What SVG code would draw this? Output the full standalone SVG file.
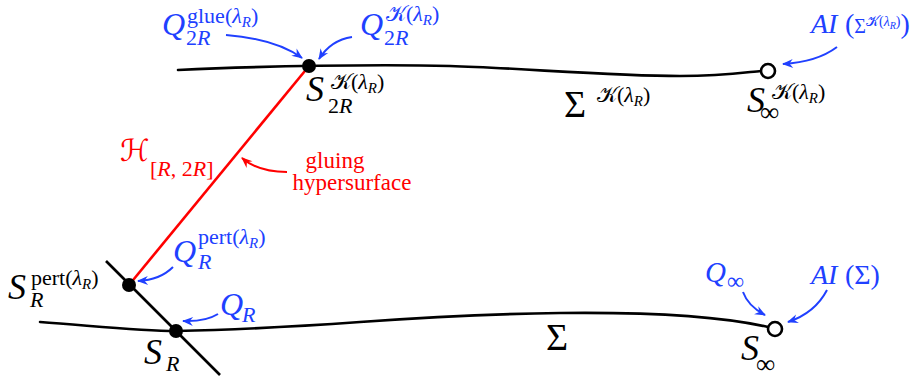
<svg xmlns="http://www.w3.org/2000/svg" width="921" height="379" viewBox="0 0 921 379">
<style>
text{font-family:"Liberation Serif","DejaVu Serif",serif;}
.i{font-style:italic;}
.cal{font-family:"DejaVu Serif","DejaVu Sans","Noto Sans",serif;font-style:normal;}
.b{fill:#2040ff;}
.k{fill:#000;}
.rd{fill:#ff0000;}
.big{font-size:32px;}
.bs{font-size:36px;}
.sm{font-size:22px;}
.xs{font-size:15px;}
.inf{font-size:27px;}
.curve{fill:none;stroke:#000;stroke-width:2.6;stroke-linecap:round;}
.arr{fill:none;stroke:#2040ff;stroke-width:2;marker-end:url(#ab);}
.arrr{fill:none;stroke:#ff0000;stroke-width:2;marker-end:url(#ar);}
.dot{fill:#000;}
.open{fill:#fff;stroke:#000;stroke-width:2.6;}
</style>
<defs>
<marker id="ab" viewBox="-11 -6 12 12" refX="0" refY="0" markerWidth="12" markerHeight="12" orient="auto" markerUnits="userSpaceOnUse"><path d="M1,0 L-10,-4.5 L-6.5,0 L-10,4.5 z" fill="#2040ff"/></marker>
<marker id="ar" viewBox="-11 -6 12 12" refX="0" refY="0" markerWidth="12" markerHeight="12" orient="auto" markerUnits="userSpaceOnUse"><path d="M1,0 L-10,-4.5 L-6.5,0 L-10,4.5 z" fill="#ff0000"/></marker>
</defs>

<g id="surfaces">
<path id="sigmaK" class="curve" d="M178,70 C260,66 380,64 450,66 C520,68 610,76 680,76 C725,76 748,72 761,71"/>
<path id="sigma" class="curve" d="M40,322 C95,326 140,331 176,331 C230,330 290,327 360,322 C430,317 480,314 560,313 C650,312 720,316 768,327"/>
<line id="slice" x1="106" y1="261" x2="220" y2="375" stroke="#000" stroke-width="2.6"/>
<line id="gluing-surface" x1="129" y1="285" x2="309" y2="66" stroke="#ff0000" stroke-width="2.6"/>
</g>

<g id="connectors">
<path class="arr" d="M226,35 Q276,39 302,58"/>
<path class="arr" d="M352,37 Q331,40 319,59"/>
<path class="arr" d="M837,47 Q817,62 783,64"/>
<path class="arrr" d="M287,172 Q258,172 242,158"/>
<path class="arr" d="M173,267 Q160,280 138,281"/>
<path class="arr" d="M218,314 Q205,322 183,321"/>
<path class="arr" d="M743,292 Q748,306 765,315"/>
<path class="arr" d="M827,290 Q815,313 788,322"/>
</g>

<g id="node-S2R">
<circle class="dot" cx="309" cy="66" r="7"/>
<text class="k"><tspan class="i bs" x="306" y="101">S</tspan><tspan class="cal sm" x="331" y="89">𝒦</tspan><tspan class="sm" y="89">(</tspan><tspan class="i sm" y="89">λ</tspan><tspan class="i xs" y="93">R</tspan><tspan class="sm" y="89">)</tspan><tspan class="sm" x="328" y="113">2</tspan><tspan class="i sm" y="113">R</tspan></text>
</g>

<g id="node-Qglue">
<text class="b"><tspan class="i big" x="162" y="35">Q</tspan><tspan class="sm" x="187" y="23">glue(</tspan><tspan class="i sm" y="23">λ</tspan><tspan class="i xs" y="27">R</tspan><tspan class="sm" y="23">)</tspan><tspan class="sm" x="186" y="45">2</tspan><tspan class="i sm" y="45">R</tspan></text>
</g>

<g id="node-QK">
<text class="b"><tspan class="i big" x="360" y="35">Q</tspan><tspan class="cal sm" x="386" y="21">𝒦</tspan><tspan class="sm" y="21">(</tspan><tspan class="i sm" y="21">λ</tspan><tspan class="i xs" y="25">R</tspan><tspan class="sm" y="21">)</tspan><tspan class="sm" x="384" y="45">2</tspan><tspan class="i sm" y="45">R</tspan></text>
</g>

<g id="node-SigmaK">
<text class="k"><tspan font-size="38" x="564" y="117">Σ</tspan><tspan class="cal sm" x="597" y="102">𝒦</tspan><tspan class="sm" y="102">(</tspan><tspan class="i sm" y="102">λ</tspan><tspan class="i xs" y="106">R</tspan><tspan class="sm" y="102">)</tspan></text>
</g>

<g id="node-SinfK">
<circle class="open" cx="768" cy="71" r="7"/>
<text class="k"><tspan class="i bs" x="747" y="112">S</tspan><tspan class="cal sm" x="772" y="99">𝒦</tspan><tspan class="sm" y="99">(</tspan><tspan class="i sm" y="99">λ</tspan><tspan class="i xs" y="103">R</tspan><tspan class="sm" y="99">)</tspan><tspan class="inf" x="760" y="121">∞</tspan></text>
</g>

<g id="node-AIK">
<text class="b"><tspan class="i" font-size="28" x="811" y="33">AI</tspan><tspan font-size="28" x="845" y="33">(</tspan><tspan font-size="20" y="33">Σ</tspan><tspan class="cal" font-size="14" y="26">𝒦</tspan><tspan font-size="14" y="26">(</tspan><tspan class="i" font-size="14" y="26">λ</tspan><tspan class="i" font-size="10" y="29">R</tspan><tspan font-size="14" y="26">)</tspan><tspan font-size="28" y="33">)</tspan></text>
</g>

<g id="node-H">
<text class="rd"><tspan class="cal" font-size="30" x="120" y="161">ℋ</tspan><tspan class="sm" x="150" y="176">[</tspan><tspan class="i sm" y="176">R</tspan><tspan class="sm" y="176">, 2</tspan><tspan class="i sm" y="176">R</tspan><tspan class="sm" y="176">]</tspan></text>
</g>

<g id="node-gluing">
<text class="rd" font-size="23" text-anchor="middle"><tspan x="335" y="168">gluing</tspan><tspan x="352" y="190">hypersurface</tspan></text>
</g>

<g id="node-Spert">
<circle class="dot" cx="129" cy="285" r="7"/>
<text class="k"><tspan class="i bs" x="8" y="299">S</tspan><tspan class="sm" x="31" y="285">pert(</tspan><tspan class="i sm" y="285">λ</tspan><tspan class="i xs" y="289">R</tspan><tspan class="sm" y="285">)</tspan><tspan class="i sm" x="30" y="307">R</tspan></text>
</g>

<g id="node-Qpert">
<text class="b"><tspan class="i big" x="173" y="262">Q</tspan><tspan class="sm" x="198" y="244">pert(</tspan><tspan class="i sm" y="244">λ</tspan><tspan class="i xs" y="248">R</tspan><tspan class="sm" y="244">)</tspan><tspan class="i sm" x="198" y="269">R</tspan></text>
</g>

<g id="node-SR">
<circle class="dot" cx="176" cy="331" r="7"/>
<text class="k"><tspan class="i bs" x="144" y="364">S</tspan><tspan class="i sm" x="166" y="371">R</tspan></text>
</g>

<g id="node-QR">
<text class="b"><tspan class="i big" x="220" y="315">Q</tspan><tspan class="i sm" x="242" y="322">R</tspan></text>
</g>

<g id="node-Sigma">
<text class="k" font-size="38" x="546" y="350">Σ</text>
</g>

<g id="node-Sinf">
<circle class="open" cx="775" cy="329" r="7"/>
<text class="k"><tspan class="i bs" x="741" y="360">S</tspan><tspan class="inf" x="756" y="373">∞</tspan></text>
</g>

<g id="node-Qinf">
<text class="b"><tspan class="i" font-size="29" x="705" y="282">Q</tspan><tspan font-size="24" x="727" y="289">∞</tspan></text>
</g>

<g id="node-AI">
<text class="b" font-size="28"><tspan class="i" x="811" y="284">AI</tspan><tspan x="845" y="284">(Σ)</tspan></text>
</g>
</svg>
